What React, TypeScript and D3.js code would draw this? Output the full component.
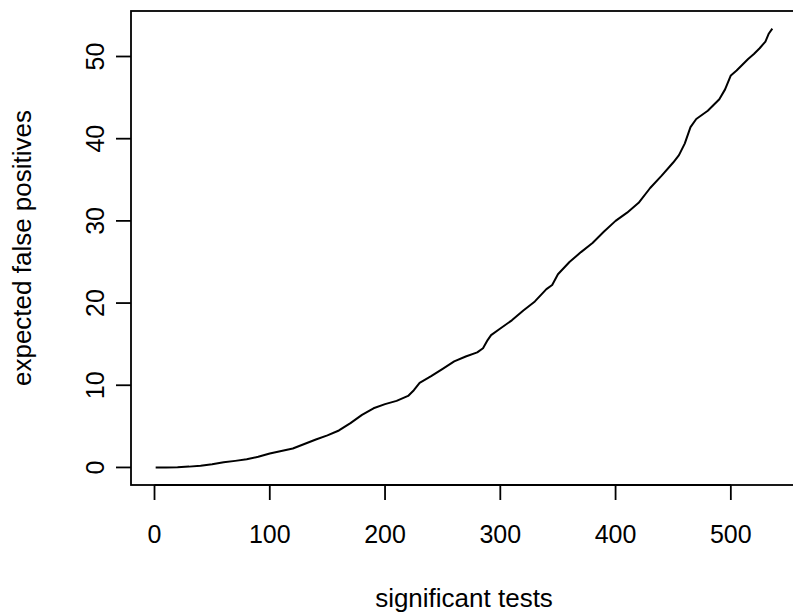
import React from "react";
import * as d3 from "d3";

const testCounts = [1, 10, 20, 30, 40, 50, 60, 70, 80, 90, 100, 110, 120, 130, 140, 150, 160, 170, 180, 190, 200, 210, 220, 225, 230, 240, 250, 260, 270, 280, 285, 289, 292, 300, 310, 320, 330, 340, 345, 350, 360, 370, 380, 385, 390, 400, 410, 420, 430, 440, 450, 455, 460, 465, 470, 480, 485, 490, 495, 500, 505, 510, 515, 520, 525, 530, 533, 536];
const expectedFP = [0, 0, 0.02, 0.1, 0.22, 0.4, 0.62, 0.8, 1.0, 1.3, 1.7, 2.0, 2.3, 2.85, 3.4, 3.9, 4.5, 5.4, 6.4, 7.2, 7.7, 8.1, 8.7, 9.4, 10.3, 11.1, 12.0, 12.9, 13.5, 14.0, 14.5, 15.5, 16.1, 16.9, 17.9, 19.1, 20.2, 21.7, 22.2, 23.5, 25.0, 26.2, 27.3, 28.0, 28.7, 30.0, 31.0, 32.2, 34.0, 35.5, 37.1, 38.0, 39.4, 41.4, 42.4, 43.4, 44.1, 44.8, 46.0, 47.7, 48.3, 49.0, 49.7, 50.3, 51.0, 51.8, 52.8, 53.4];
const xTicks = [0, 100, 200, 300, 400, 500];
const yTicks = [0, 10, 20, 30, 40, 50];
const xLabel = "significant tests";
const yLabel = "expected false positives";

export default function App() {
  const W = 793, H = 615;
  const left = 131, right = 797, top = 11, bottom = 485;
  const xMin = d3.min(testCounts)!, xMax = d3.max(testCounts)!;
  const yMin = 0, yMax = d3.max(expectedFP)!;
  const xPad = (xMax - xMin) * 0.04, yPad = (yMax - yMin) * 0.04;
  const x = d3.scaleLinear().domain([xMin - xPad, xMax + xPad]).range([left, right]);
  const y = d3.scaleLinear().domain([yMin - yPad, yMax + yPad]).range([bottom, top]);
  const pts = testCounts.map((c, i) => [c, expectedFP[i]] as [number, number]);
  const line = d3.line<[number, number]>().x(d => x(d[0])).y(d => y(d[1]));
  const font = "'Liberation Sans', Arial, sans-serif";
  const fs = 25;
  const fsTitle = 26;
  const tick = 15;
  const sw = 1.8;
  return (
    <svg width={W} height={H} style={{ position: "absolute", left: 0, top: 0, background: "#fff" }} fontFamily={font}>
      <rect x={0} y={0} width={W} height={H} fill="#fff" />
      <path d={line(pts)!} fill="none" stroke="#000" strokeWidth={2} strokeLinejoin="round" />
      <rect x={left} y={top} width={right - left} height={bottom - top} fill="none" stroke="#000" strokeWidth={sw} />
      {xTicks.map(t => (
        <g key={"x" + t}>
          <line x1={x(t)} x2={x(t)} y1={bottom} y2={bottom + tick} stroke="#000" strokeWidth={sw} />
          <text x={x(t)} y={543} textAnchor="middle" fontSize={fs}>{t}</text>
        </g>
      ))}
      <line x1={x(0)} x2={x(500)} y1={bottom} y2={bottom} stroke="#000" strokeWidth={sw} />
      {yTicks.map(t => (
        <g key={"y" + t}>
          <line x1={left - tick} x2={left} y1={y(t)} y2={y(t)} stroke="#000" strokeWidth={sw} />
          <text transform={`translate(104,${y(t)}) rotate(-90)`} textAnchor="middle" fontSize={fs}>{t}</text>
        </g>
      ))}
      <text x={(left + right) / 2} y={607} textAnchor="middle" fontSize={fsTitle}>{xLabel}</text>
      <text transform={`translate(31,${(top + bottom) / 2}) rotate(-90)`} textAnchor="middle" fontSize={fsTitle}>{yLabel}</text>
    </svg>
  );
}
